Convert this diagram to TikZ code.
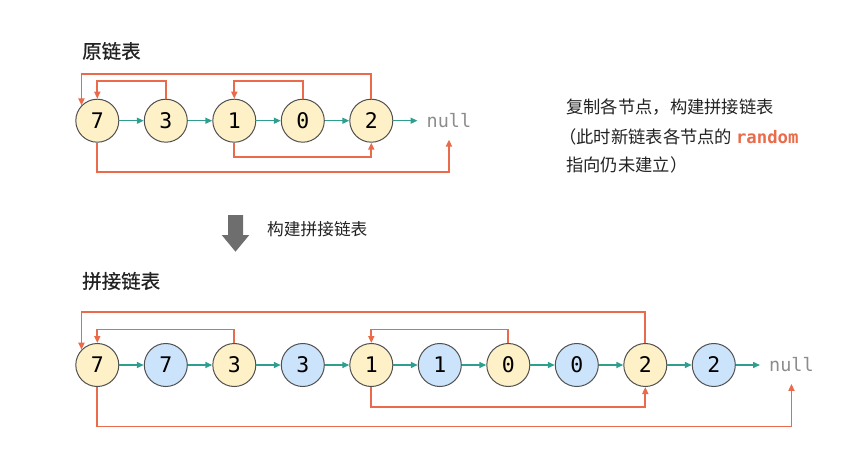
\documentclass[tikz,border=0pt]{standalone}
\usepackage{fontspec}
\usetikzlibrary{positioning, arrows.meta}
\newfontfamily\cjk{Noto Sans CJK SC}
\newfontfamily\cjkhead[FakeBold=0.7]{Noto Sans CJK SC}
\newfontfamily\mono{DejaVu Sans Mono}
\definecolor{NodeYel}  {HTML}{FEF1C8}
\definecolor{NodeBlu}  {HTML}{CBE4FB}
\definecolor{NodeLine} {HTML}{505050}
\definecolor{NextTeal} {HTML}{2E9E8F}
\definecolor{RandRed}  {HTML}{EA6B4B}
\definecolor{NullGray} {HTML}{8C8C8C}
\definecolor{ArrGray}  {HTML}{6E6E6E}
\definecolor{TxtMain}  {HTML}{222222}

\begin{document}
\begin{tikzpicture}[x=1pt, y=-1pt,
    elem/.style={circle, draw=NodeLine, line width=1pt, minimum size=43pt,
                 inner sep=0pt, font=\mono\fontsize{21.5}{24}\selectfont},
    orig/.style={elem, fill=NodeYel},
    cpy/.style={elem, fill=NodeBlu},
    nil/.style={font=\mono\fontsize{18.5}{20}\selectfont, text=NullGray,
                inner xsep=9pt, inner ysep=11.5pt},
    nxt/.style={draw=NextTeal, line width=1.5pt, -{Triangle[length=7pt, width=6pt]}},
    rnd/.style={draw=RandRed, line width=1.7pt, -{Triangle[length=7pt, width=6pt]}},
    txt/.style={inner sep=0pt, anchor=west, text=TxtMain,
                font=\cjk\fontsize{17.3}{20}\selectfont},
    ttl/.style={txt, font=\cjkhead\fontsize{19.5}{22}\selectfont},
  ]
  \useasboundingbox (0,0) rectangle (849,466);

      % ── 原链表 ──
      \node[ttl] (h1) at (82,51) {原链表};
      \node[orig] (o1) at (97.3,120.7) {7};
      \node[orig, right=24.5pt of o1] (o2) {3};
      \node[orig, right=24.5pt of o2] (o3) {1};
      \node[orig, right=24.5pt of o3] (o4) {0};
      \node[orig, right=24.5pt of o4] (o5) {2};
      \node[nil,  right=24.2pt of o5] (n1) {null};
      \draw[nxt] (o1) -- (o2);
      \draw[nxt] (o2) -- (o3);
      \draw[nxt] (o3) -- (o4);
      \draw[nxt] (o4) -- (o5);
      \draw[nxt] (o5) -- (n1);
      % random
      \draw[rnd] (o5.north) -- ++(0,-25) -| (o1.136);
      \draw[rnd] (o2.north) -- ++(0,-17.5) -| (o1.north);
      \draw[rnd] (o4.north) -- ++(0,-17.5) -| (o3.north);
      \draw[rnd] (o3.south) -- ++(0,14) -| (o5.south);
      \draw[rnd] (o1.south) -- ++(0,29.5) -| (n1.south);

      % ── 说明 ──
      \node[txt] (t1) at (566,107) {复制各节点，构建拼接链表};
      \node[txt] (t2) at (559,137) {（此时新链表各节点的
        {\mono\bfseries\fontsize{17.3}{20}\selectfont\textcolor{RandRed}{random}}};
      \node[txt] (t3) at (566,165) {指向仍未建立）};

      % ── 箭头 ──
      \fill[ArrGray] (228,215) -- (243,215) -- (243,235) -- (249.3,235)
        -- (235.5,251.7) -- (221.7,235) -- (228,235) -- cycle;
      \node[txt, font=\cjk\fontsize{16.7}{20}\selectfont] (t4) at (267,229) {构建拼接链表};

      % ── 拼接链表 ──
      \node[ttl] (h2) at (82,281) {拼接链表};
      \node[orig] (s1) at (97.3,365) {7};
      \node[cpy,  right=24.5pt of s1] (s2) {7};
      \node[orig, right=24.5pt of s2] (s3) {3};
      \node[cpy,  right=24.5pt of s3] (s4) {3};
      \node[orig, right=24.5pt of s4] (s5) {1};
      \node[cpy,  right=24.5pt of s5] (s6) {1};
      \node[orig, right=24.5pt of s6] (s7) {0};
      \node[cpy,  right=24.5pt of s7] (s8) {0};
      \node[orig, right=24.5pt of s8] (s9) {2};
      \node[cpy,  right=24.5pt of s9] (s10) {2};
      \node[nil,  right=24.2pt of s10] (n2) {null};
      \draw[nxt] (s1) -- (s2);
      \draw[nxt] (s2) -- (s3);
      \draw[nxt] (s3) -- (s4);
      \draw[nxt] (s4) -- (s5);
      \draw[nxt] (s5) -- (s6);
      \draw[nxt] (s6) -- (s7);
      \draw[nxt] (s7) -- (s8);
      \draw[nxt] (s8) -- (s9);
      \draw[nxt] (s9) -- (s10);
      \draw[nxt] (s10) -- (n2);
      % random
      \draw[rnd] (s9.north) -- ++(0,-30.8) -| (s1.136);
      \draw[rnd] (s3.north) -- ++(0,-13.5) -| (s1.north);
      \draw[rnd] (s7.north) -- ++(0,-13.5) -| (s5.north);
      \draw[rnd] (s5.south) -- ++(0,20.2) -| (s9.south);
      \draw[rnd] (s1.south) -- ++(0,39.5) -| (n2.south);
\end{tikzpicture}
\end{document}
